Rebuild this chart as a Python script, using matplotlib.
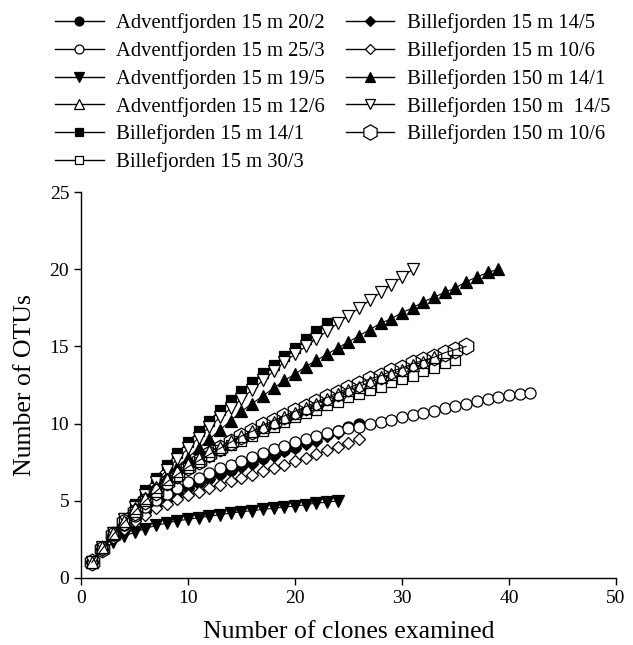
import matplotlib
matplotlib.use("Agg")
import matplotlib.pyplot as plt
from matplotlib.lines import Line2D

plt.rcParams['font.family'] = ['Liberation Serif', 'DejaVu Serif']

labels = [
    "Adventfjorden 15 m 20/2",
    "Adventfjorden 15 m 25/3",
    "Adventfjorden 15 m 19/5",
    "Adventfjorden 15 m 12/6",
    "Billefjorden 15 m 14/1",
    "Billefjorden 15 m 30/3",
    "Billefjorden 15 m 14/5",
    "Billefjorden 15 m 10/6",
    "Billefjorden 150 m 14/1",
    "Billefjorden 150 m  14/5",
    "Billefjorden 150 m 10/6",
]

adv_20_2 = [1, 1.9, 2.7, 3.3, 3.9, 4.4, 4.8, 5.2, 5.6, 5.9, 6.2, 6.5, 6.8, 7.0, 7.3,
            7.5, 7.8, 8.0, 8.3, 8.5, 8.8, 9.0, 9.3, 9.5, 9.8, 10.0]
adv_25_3 = [1, 1.9, 2.75, 3.4, 4.0, 4.6, 5.05, 5.45, 5.85, 6.2, 6.5, 6.8, 7.1, 7.35,
            7.6, 7.85, 8.1, 8.35, 8.55, 8.8, 9.0, 9.2, 9.4, 9.55, 9.7, 9.8, 9.95, 10.1,
            10.25, 10.4, 10.55, 10.7, 10.85, 11.0, 11.15, 11.3, 11.45, 11.6, 11.75,
            11.85, 11.95, 12.0]
adv_19_5 = [1, 1.8, 2.3, 2.7, 2.95, 3.2, 3.4, 3.55, 3.7, 3.8, 3.9, 4.0, 4.1, 4.2, 4.3,
            4.35, 4.45, 4.5, 4.6, 4.65, 4.75, 4.85, 4.9, 5.0]
adv_12_6 = [1, 2, 2.9, 3.7, 4.5, 5.2, 5.9, 6.4, 6.9, 7.4, 7.8, 8.2, 8.5, 8.9, 9.2,
            9.5, 9.8, 10.1, 10.4, 10.7, 11.0, 11.3, 11.6, 11.9, 12.2, 12.4, 12.7, 13.0,
            13.2, 13.5, 13.8, 14.0, 14.3]
bil_15_14_1 = [1, 2, 2.95, 3.9, 4.8, 5.7, 6.5, 7.3, 8.1, 8.8, 9.5, 10.2, 10.9, 11.5,
               12.1, 12.7, 13.3, 13.8, 14.4, 14.9, 15.5, 16.0, 16.5]
bil_15_30_3 = [1, 2, 2.8, 3.6, 4.3, 5.0, 5.6, 6.1, 6.6, 7.1, 7.5, 7.9, 8.3, 8.6, 8.9,
               9.2, 9.5, 9.8, 10.1, 10.4, 10.7, 10.9, 11.2, 11.4, 11.7, 11.9, 12.2,
               12.4, 12.7, 12.9, 13.1, 13.4, 13.6, 13.9, 14.1]
bil_15_14_5 = [1, 1.9, 2.65, 3.25, 3.8, 4.3, 4.7, 5.1, 5.5, 5.8, 6.1, 6.4, 6.7, 6.9,
               7.2, 7.4, 7.7, 7.9, 8.2, 8.4, 8.7, 8.9, 9.2, 9.4]
bil_15_10_6 = [1, 1.9, 2.6, 3.2, 3.7, 4.1, 4.5, 4.8, 5.1, 5.35, 5.6, 5.85, 6.05, 6.3,
               6.5, 6.7, 6.9, 7.1, 7.3, 7.55, 7.8, 8.0, 8.3, 8.5, 8.75, 9.0]
bil_150_14_1 = [1, 2, 2.9, 3.7, 4.5, 5.2, 5.9, 6.6, 7.2, 7.8, 8.4, 9.0, 9.6, 10.2,
                10.8, 11.3, 11.8, 12.3, 12.8, 13.2, 13.7, 14.1, 14.5, 14.9, 15.3, 15.7,
                16.1, 16.5, 16.8, 17.2, 17.5, 17.9, 18.2, 18.5, 18.8, 19.2, 19.5, 19.8,
                20.0]
bil_150_14_5 = [1, 2, 2.9, 3.8, 4.6, 5.4, 6.2, 7.0, 7.7, 8.4, 9.1, 9.8, 10.4, 11.0,
                11.6, 12.2, 12.8, 13.4, 14.0, 14.5, 15.0, 15.5, 16.0, 16.5, 17.0, 17.5,
                18.0, 18.5, 19.0, 19.5, 20.0]
bil_150_10_6 = [1, 1.9, 2.8, 3.6, 4.3, 5.0, 5.6, 6.2, 6.7, 7.2, 7.6, 8.0, 8.4, 8.8,
                9.2, 9.5, 9.9, 10.2, 10.5, 10.8, 11.1, 11.4, 11.7, 12.0, 12.3, 12.6,
                12.9, 13.1, 13.4, 13.6, 13.9, 14.1, 14.3, 14.6, 14.8, 15.0]

series = [adv_20_2, adv_25_3, adv_19_5, adv_12_6, bil_15_14_1, bil_15_30_3,
          bil_15_14_5, bil_15_10_6, bil_150_14_1, bil_150_14_5, bil_150_10_6]

markers = ['o', 'o', 'v', '^', 's', 's', 'D', 'D', '^', 'v', 'h']
filled = [True, False, True, False, True, False, True, False, True, False, False]
msizes = [8, 8, 8.5, 8.5, 7.5, 7.5, 6.5, 6.5, 8.5, 8.5, 12]
zorders = [3, 4, 3, 5, 3, 4, 2, 3, 3, 4, 6]

fig = plt.figure(figsize=(6.33, 6.45), dpi=100)
ax = fig.add_axes([0.128, 0.104, 0.845, 0.598])

for ys, lab, m, f, ms, z in zip(series, labels, markers, filled, msizes, zorders):
    xs = list(range(1, len(ys) + 1))
    fc = 'black' if f else ('none' if m == 'h' else 'white')
    ax.plot(xs, ys, color='black', lw=0.8, marker=m, markersize=ms,
            markerfacecolor=fc, markeredgecolor='black', markeredgewidth=0.9,
            label=lab, zorder=z)

ax.set_xlim(0, 50)
ax.set_ylim(0, 25)
ax.set_xticks([0, 10, 20, 30, 40, 50])
ax.set_yticks([0, 5, 10, 15, 20, 25])
for s in ['top', 'right']:
    ax.spines[s].set_visible(False)
for s in ['left', 'bottom']:
    ax.spines[s].set_linewidth(1.0)
ax.tick_params(direction='out', length=5, width=1.0, labelsize=14)
ax.set_xlabel("Number of clones examined", fontsize=18.5, labelpad=10)
ax.set_ylabel("Number of OTUs", fontsize=18.5, labelpad=10)

handles = []
for lab, m, f, ms in zip(labels, markers, filled, msizes):
    fc = 'black' if f else 'white'
    handles.append(Line2D([0], [0], color='black', lw=1.0, marker=m,
                          markersize=ms * 0.8 if m != 'h' else 11,
                          markerfacecolor=fc, markeredgecolor='black',
                          markeredgewidth=0.9))
fig.legend(handles, labels, loc='upper left', bbox_to_anchor=(0.074, 0.992),
           ncol=2, frameon=False, fontsize=14.9, handlelength=2.35,
           handletextpad=0.6, labelspacing=0.38, columnspacing=1.0,
           borderaxespad=0)

fig.savefig("out.png", dpi=100)
